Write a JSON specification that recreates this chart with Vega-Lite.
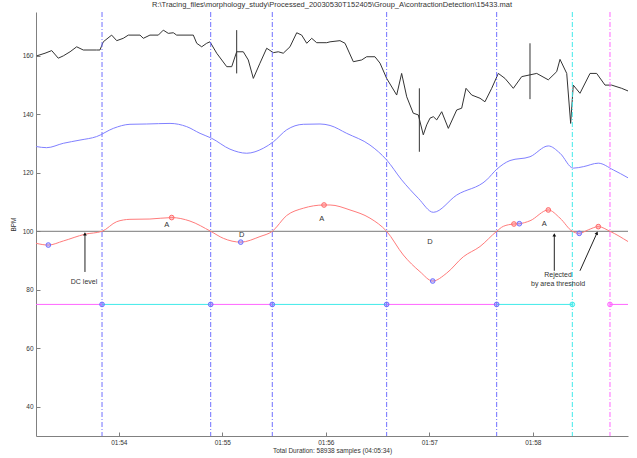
{
  "$schema": "https://vega.github.io/schema/vega-lite/v6.json",
  "width": 592,
  "height": 424,
  "autosize": {"type": "none"},
  "padding": {"left": 36, "top": 12, "right": 9, "bottom": 22},
  "background": "white",
  "config": {
    "view": {"stroke": null},
    "axis": {
      "domainColor": "#808080",
      "tickColor": "#808080",
      "labelColor": "#333333",
      "titleColor": "#333333",
      "labelFont": "Liberation Sans",
      "titleFont": "Liberation Sans",
      "labelFontSize": 6.5,
      "titleFontSize": 6.5,
      "titleFontWeight": "normal",
      "grid": false,
      "tickSize": -4,
      "labelPadding": 7
    }
  },
  "title": {
    "text": "R:\\Tracing_files\\morphology_study\\Processed_20030530T152405\\Group_A\\contractionDetection\\15433.mat",
    "font": "Liberation Sans",
    "fontSize": 7.5,
    "fontWeight": "normal",
    "color": "#333333",
    "anchor": "middle",
    "offset": 3
  },
  "datasets": {
    "fhr": [
      {"t": 113.207, "v": 160}, {"t": 113.287, "v": 160.9}, {"t": 113.352, "v": 161.8}, {"t": 113.415, "v": 159.2},
      {"t": 113.464, "v": 160}, {"t": 113.529, "v": 161.4}, {"t": 113.593, "v": 163.1}, {"t": 113.657, "v": 162},
      {"t": 113.786, "v": 162}, {"t": 113.818, "v": 162}, {"t": 113.85, "v": 164.8}, {"t": 113.931, "v": 167.1},
      {"t": 113.98, "v": 165.2}, {"t": 114.043, "v": 166}, {"t": 114.092, "v": 167.1}, {"t": 114.205, "v": 167.1},
      {"t": 114.237, "v": 166}, {"t": 114.301, "v": 167.1}, {"t": 114.382, "v": 167.1}, {"t": 114.43, "v": 168.8},
      {"t": 114.478, "v": 167.7}, {"t": 114.527, "v": 167.9}, {"t": 114.559, "v": 167.1}, {"t": 114.72, "v": 167.1},
      {"t": 114.753, "v": 164.3}, {"t": 114.801, "v": 163.1}, {"t": 114.849, "v": 164.3}, {"t": 114.881, "v": 164.8},
      {"t": 114.946, "v": 160.9}, {"t": 115.043, "v": 156.3}, {"t": 115.091, "v": 156.3}, {"t": 115.139, "v": 161.4},
      {"t": 115.203, "v": 161.4}, {"t": 115.251, "v": 158.6}, {"t": 115.3, "v": 152.3}, {"t": 115.364, "v": 157.5},
      {"t": 115.429, "v": 162.6}, {"t": 115.493, "v": 161.1}, {"t": 115.541, "v": 161.4}, {"t": 115.589, "v": 160.9},
      {"t": 115.654, "v": 163.1}, {"t": 115.719, "v": 167.9}, {"t": 115.767, "v": 167.1}, {"t": 115.816, "v": 164.3},
      {"t": 115.864, "v": 166}, {"t": 115.912, "v": 164.5}, {"t": 116.009, "v": 164.5}, {"t": 116.041, "v": 164.8},
      {"t": 116.137, "v": 165.2}, {"t": 116.186, "v": 164.3}, {"t": 116.266, "v": 158}, {"t": 116.347, "v": 158.6},
      {"t": 116.395, "v": 159.7}, {"t": 116.475, "v": 159.7}, {"t": 116.524, "v": 157.5}, {"t": 116.588, "v": 152.3},
      {"t": 116.685, "v": 146.6}, {"t": 116.733, "v": 154}, {"t": 116.782, "v": 146}, {"t": 116.845, "v": 140.4},
      {"t": 116.894, "v": 139.8}, {"t": 116.942, "v": 133}, {"t": 116.975, "v": 136.4}, {"t": 117.007, "v": 138.7},
      {"t": 117.039, "v": 139.2}, {"t": 117.072, "v": 138.1}, {"t": 117.12, "v": 140.9}, {"t": 117.184, "v": 135.2},
      {"t": 117.265, "v": 141.5}, {"t": 117.313, "v": 142.1}, {"t": 117.355, "v": 148.9}, {"t": 117.41, "v": 146.6},
      {"t": 117.49, "v": 145.5}, {"t": 117.538, "v": 144.3}, {"t": 117.603, "v": 148.9}, {"t": 117.667, "v": 154},
      {"t": 117.731, "v": 152.3}, {"t": 117.812, "v": 148.9}, {"t": 117.893, "v": 152.9}, {"t": 117.973, "v": 153.5},
      {"t": 118.038, "v": 154}, {"t": 118.15, "v": 151.8}, {"t": 118.231, "v": 154.6}, {"t": 118.263, "v": 158.8},
      {"t": 118.328, "v": 154}, {"t": 118.366, "v": 136.9}, {"t": 118.391, "v": 150}, {"t": 118.456, "v": 147.2},
      {"t": 118.553, "v": 154}, {"t": 118.617, "v": 154}, {"t": 118.698, "v": 150}, {"t": 118.762, "v": 150},
      {"t": 118.859, "v": 148.9}, {"t": 118.92, "v": 148}
    ],
    "spikes": [
      {"t": 115.139, "v": 154, "v2": 168.8},
      {"t": 116.904, "v": 127.2, "v2": 148.9},
      {"t": 117.973, "v": 145.2, "v2": 164.3}
    ],
    "base": [
      {"t": 113.2, "v": 129}, {"t": 113.303, "v": 128.6}, {"t": 113.464, "v": 130.1}, {"t": 113.625, "v": 131.2},
      {"t": 113.786, "v": 132.4}, {"t": 113.947, "v": 135.2}, {"t": 114.108, "v": 136.6}, {"t": 114.27, "v": 136.7},
      {"t": 114.495, "v": 136.9}, {"t": 114.656, "v": 135.8}, {"t": 114.785, "v": 133.5}, {"t": 114.898, "v": 131.8},
      {"t": 115.074, "v": 128.1}, {"t": 115.236, "v": 126.7}, {"t": 115.396, "v": 128.4}, {"t": 115.493, "v": 130.6},
      {"t": 115.622, "v": 134.7}, {"t": 115.783, "v": 136.6}, {"t": 115.944, "v": 136.7}, {"t": 116.041, "v": 136.2},
      {"t": 116.202, "v": 133.5}, {"t": 116.427, "v": 129.5}, {"t": 116.588, "v": 124.4}, {"t": 116.733, "v": 117.6},
      {"t": 116.894, "v": 111.3}, {"t": 117.039, "v": 106.5}, {"t": 117.265, "v": 112.4}, {"t": 117.555, "v": 117.6},
      {"t": 117.651, "v": 121.2}, {"t": 117.78, "v": 124.2}, {"t": 117.973, "v": 125.5}, {"t": 118.15, "v": 129.2},
      {"t": 118.263, "v": 126.7}, {"t": 118.391, "v": 121.6}, {"t": 118.488, "v": 122.1}, {"t": 118.633, "v": 123.3},
      {"t": 118.778, "v": 121}, {"t": 118.92, "v": 118.3}
    ],
    "filt": [
      {"t": 113.2, "v": 95.9}, {"t": 113.319, "v": 95.3}, {"t": 113.464, "v": 96.7}, {"t": 113.673, "v": 99},
      {"t": 113.838, "v": 100}, {"t": 113.98, "v": 103.3}, {"t": 114.108, "v": 104.1}, {"t": 114.301, "v": 104.2},
      {"t": 114.511, "v": 104.7}, {"t": 114.688, "v": 103.5}, {"t": 114.888, "v": 100}, {"t": 115.01, "v": 97.6},
      {"t": 115.178, "v": 96.3}, {"t": 115.364, "v": 98.2}, {"t": 115.483, "v": 100}, {"t": 115.622, "v": 105.4},
      {"t": 115.783, "v": 107.9}, {"t": 115.983, "v": 109}, {"t": 116.041, "v": 109}, {"t": 116.234, "v": 107.3},
      {"t": 116.427, "v": 104.5}, {"t": 116.588, "v": 100}, {"t": 116.749, "v": 91.9}, {"t": 116.91, "v": 86.2},
      {"t": 117.033, "v": 83}, {"t": 117.168, "v": 85.7}, {"t": 117.329, "v": 91.3}, {"t": 117.49, "v": 94.8},
      {"t": 117.651, "v": 100}, {"t": 117.715, "v": 101.7}, {"t": 117.818, "v": 102.5}, {"t": 117.87, "v": 102.6},
      {"t": 117.973, "v": 103.6}, {"t": 118.15, "v": 107.3}, {"t": 118.263, "v": 104.5}, {"t": 118.382, "v": 100},
      {"t": 118.449, "v": 99.3}, {"t": 118.536, "v": 100.5}, {"t": 118.633, "v": 101.6}, {"t": 118.746, "v": 100},
      {"t": 118.92, "v": 96.5}
    ],
    "vlines": [
      {"t": 113.838, "c": "b"}, {"t": 114.888, "c": "b"}, {"t": 115.483, "c": "b"}, {"t": 116.588, "c": "b"},
      {"t": 117.651, "c": "b"}, {"t": 118.382, "c": "c"}, {"t": 118.746, "c": "m"}
    ],
    "seg75": [
      {"t": 113.2, "t2": 113.838, "c": "m"}, {"t": 113.838, "t2": 114.888, "c": "c"},
      {"t": 114.888, "t2": 115.483, "c": "m"}, {"t": 115.483, "t2": 116.588, "c": "c"},
      {"t": 116.588, "t2": 117.651, "c": "m"}, {"t": 117.651, "t2": 118.382, "c": "c"},
      {"t": 118.746, "t2": 118.92, "c": "m"}
    ],
    "peaks": [
      {"t": 113.319, "v": 95.3, "c": "b"}, {"t": 115.178, "v": 96.3, "c": "b"}, {"t": 117.033, "v": 83, "c": "b"},
      {"t": 117.87, "v": 102.6, "c": "b"}, {"t": 118.449, "v": 99.3, "c": "b"},
      {"t": 114.511, "v": 104.7, "c": "r"}, {"t": 115.983, "v": 109, "c": "r"}, {"t": 117.818, "v": 102.5, "c": "r"},
      {"t": 118.15, "v": 107.3, "c": "r"}, {"t": 118.633, "v": 101.6, "c": "r"}
    ],
    "labels": [
      {"t": 114.463, "v": 102.2, "text": "A"}, {"t": 115.187, "v": 98.6, "text": "D"},
      {"t": 115.96, "v": 104.2, "text": "A"}, {"t": 117.007, "v": 96.5, "text": "D"},
      {"t": 118.111, "v": 102.6, "text": "A"}
    ],
    "notes": [
      {"t": 113.664, "v": 82.8, "text": "DC level", "a": "center"},
      {"t": 118.244, "v": 85.1, "text": "Rejected", "a": "left"},
      {"t": 118.244, "v": 81.9, "text": "by area threshold", "a": "left"}
    ],
    "arrows": [
      {"name": "dc", "t": 113.673, "v": 86.1, "t2": 113.673, "v2": 99.1},
      {"name": "rej1", "t": 118.208, "v": 86.5, "t2": 118.208, "v2": 98.8},
      {"name": "rej2", "t": 118.456, "v": 86.5, "t2": 118.62, "v2": 99.4}
    ]
  },
  "layer": [
    {
      "data": {"name": "fhr"},
      "mark": {"type": "line", "color": "#333333", "strokeWidth": 1},
      "encoding": {
        "x": {
          "field": "t", "type": "quantitative",
          "scale": {"domain": [113.2, 118.92], "nice": false, "zero": false},
          "axis": {
            "title": "Total Duration: 58938 samples (04:05:34)",
            "values": [114, 115, 116, 117, 118],
            "labelExpr": "'01:' + (datum.value - 60)",
            "titlePadding": 2
          }
        },
        "y": {
          "field": "v", "type": "quantitative",
          "scale": {"domain": [30, 175], "nice": false, "zero": false},
          "axis": {
            "title": "BPM",
            "values": [40, 60, 80, 100, 120, 140, 160],
            "titlePadding": 6
          }
        }
      }
    },
    {
      "data": {"name": "vlines"},
      "mark": {"type": "rule", "strokeWidth": 1, "strokeDash": [5, 2, 1, 2]},
      "encoding": {
        "x": {"field": "t", "type": "quantitative"},
        "color": {"field": "c", "type": "nominal", "scale": {"domain": ["b", "c", "m", "r"], "range": ["#7070ff", "#40eaea", "#ff66ff", "#ff6a6a"]}, "legend": null}
      }
    },
    {
      "data": {"name": "spikes"},
      "mark": {"type": "rule", "color": "#333333", "strokeWidth": 1},
      "encoding": {
        "x": {"field": "t", "type": "quantitative"},
        "y": {"field": "v", "type": "quantitative"},
        "y2": {"field": "v2"}
      }
    },
    {
      "data": {"name": "base"},
      "mark": {"type": "line", "color": "#8080ff", "strokeWidth": 1, "interpolate": "monotone"},
      "encoding": {
        "x": {"field": "t", "type": "quantitative"},
        "y": {"field": "v", "type": "quantitative"}
      }
    },
    {
      "data": {"values": [{"v": 100}]},
      "mark": {"type": "rule", "color": "#7a7a7a", "strokeWidth": 1},
      "encoding": {"y": {"field": "v", "type": "quantitative"}}
    },
    {
      "data": {"name": "filt"},
      "mark": {"type": "line", "color": "#ff7b7b", "strokeWidth": 1, "interpolate": "monotone"},
      "encoding": {
        "x": {"field": "t", "type": "quantitative"},
        "y": {"field": "v", "type": "quantitative"}
      }
    },
    {
      "data": {"name": "seg75"},
      "mark": {"type": "rule", "strokeWidth": 1},
      "encoding": {
        "x": {"field": "t", "type": "quantitative"},
        "x2": {"field": "t2"},
        "y": {"datum": 75, "type": "quantitative"},
        "color": {"field": "c", "type": "nominal", "legend": null}
      }
    },
    {
      "data": {"name": "vlines"},
      "mark": {"type": "point", "shape": "circle", "size": 22, "strokeWidth": 1, "filled": false, "fillOpacity": 0.35},
      "encoding": {
        "x": {"field": "t", "type": "quantitative"},
        "y": {"datum": 75, "type": "quantitative"},
        "stroke": {"field": "c", "type": "nominal", "scale": {"domain": ["b", "c", "m", "r"], "range": ["#7070ff", "#40eaea", "#ff66ff", "#ff6a6a"]}, "legend": null},
        "fill": {"field": "c", "type": "nominal", "scale": {"domain": ["b", "c", "m", "r"], "range": ["#7070ff", "#40eaea", "#ff66ff", "#ff6a6a"]}, "legend": null}
      }
    },
    {
      "data": {"name": "peaks"},
      "mark": {"type": "point", "shape": "circle", "size": 22, "strokeWidth": 1, "filled": false, "fillOpacity": 0.35},
      "encoding": {
        "x": {"field": "t", "type": "quantitative"},
        "y": {"field": "v", "type": "quantitative"},
        "stroke": {"field": "c", "type": "nominal", "legend": null},
        "fill": {"field": "c", "type": "nominal", "legend": null}
      }
    },
    {
      "data": {"name": "labels"},
      "mark": {"type": "text", "font": "Liberation Sans", "fontSize": 7.5, "color": "#333333", "align": "center", "baseline": "middle"},
      "encoding": {
        "x": {"field": "t", "type": "quantitative"},
        "y": {"field": "v", "type": "quantitative"},
        "text": {"field": "text"}
      }
    },
    {
      "data": {"name": "notes"},
      "mark": {"type": "text", "font": "Liberation Sans", "fontSize": 7, "color": "#333333", "baseline": "middle"},
      "encoding": {
        "x": {"field": "t", "type": "quantitative"},
        "y": {"field": "v", "type": "quantitative"},
        "text": {"field": "text"},
        "align": {"field": "a", "type": "nominal", "scale": null}
      }
    },
    {
      "data": {"name": "arrows"},
      "mark": {"type": "rule", "color": "#222222", "strokeWidth": 1},
      "encoding": {
        "x": {"field": "t", "type": "quantitative"},
        "y": {"field": "v", "type": "quantitative"},
        "x2": {"field": "t2"},
        "y2": {"field": "v2"}
      }
    },
    {
      "data": {"name": "arrows"},
      "transform": [{"filter": "datum.name != 'rej2'"}],
      "mark": {"type": "point", "shape": "triangle-up", "size": 14, "filled": true, "color": "#111111", "opacity": 1},
      "encoding": {
        "x": {"field": "t2", "type": "quantitative"},
        "y": {"field": "v2", "type": "quantitative"}
      }
    },
    {
      "data": {"name": "arrows"},
      "transform": [{"filter": "datum.name == 'rej2'"}],
      "mark": {"type": "point", "shape": "triangle-up", "size": 14, "filled": true, "color": "#111111", "opacity": 1, "angle": 24},
      "encoding": {
        "x": {"field": "t2", "type": "quantitative"},
        "y": {"field": "v2", "type": "quantitative"}
      }
    }
  ]
}
